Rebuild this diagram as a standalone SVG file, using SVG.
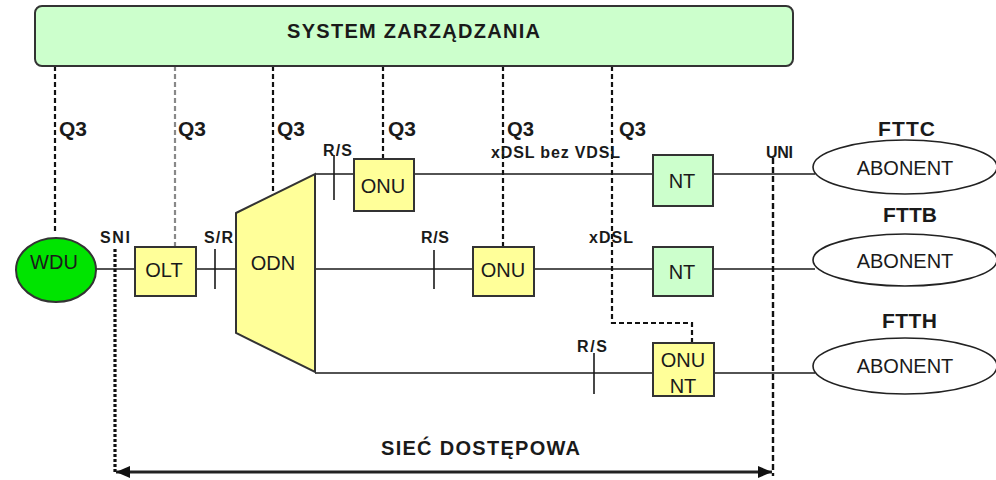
<svg xmlns="http://www.w3.org/2000/svg" width="996" height="480" viewBox="0 0 996 480">
<style>
text{font-family:"Liberation Sans",Arial,sans-serif;fill:#1a1a1a}
.b{font-weight:bold}
.lbl{font-weight:bold;font-size:16px}
.q3{font-weight:bold;font-size:21px}
.nt{font-size:20px}
.box{stroke:#333;stroke-width:2}
.y{fill:#ffff99}
.g{fill:#ccffcc}
.ln{stroke:#1a1a1a;stroke-width:1.6;fill:none}
.d{stroke:#111;stroke-width:2.2;stroke-dasharray:5 3;fill:none}
.dg{stroke:#888;stroke-width:2.2;stroke-dasharray:5 3;fill:none}
.sni{stroke:#111;stroke-width:3.2;stroke-dasharray:3 2;fill:none}
.uni{stroke:#111;stroke-width:2.4;stroke-dasharray:6 3;fill:none}
.ell{fill:#fff;stroke:#222;stroke-width:1.6}
</style>
<defs>
<marker id="ah" viewBox="0 0 14 12" refX="14" refY="6" markerWidth="14" markerHeight="12" markerUnits="userSpaceOnUse" orient="auto-start-reverse">
<path d="M0,0 L14,6 L0,12 Z" fill="#111"/>
</marker>
</defs>
<rect width="996" height="480" fill="#fff"/>

<g id="connectors">
<!-- Q3 management links -->
<path class="d" d="M55,66 V232"/>
<path class="dg" d="M175,66 V247"/>
<path class="d" d="M273,66 V195"/>
<path class="d" d="M383,66 V159"/>
<path class="d" d="M503,66 V247"/>
<path class="d" d="M612,66 V323 H692 V343"/>
<!-- main lines -->
<path class="ln" d="M96,269 H135"/>
<path class="ln" d="M196,269 H236"/>
<path class="ln" d="M315,174 H354"/>
<path class="ln" d="M414,174 H653"/>
<path class="ln" d="M713,174 H815"/>
<path class="ln" d="M315,269 H473"/>
<path class="ln" d="M534,269 H653"/>
<path class="ln" d="M713,269 H815"/>
<path class="ln" d="M315,373 H653"/>
<path class="ln" d="M714,373 H815"/>
<!-- reference point ticks -->
<path class="ln" d="M215,249 V289"/>
<path class="ln" d="M334,155 V200"/>
<path class="ln" d="M434,250 V289"/>
<path class="ln" d="M594,353 V394"/>
<!-- SNI / UNI boundaries -->
<path class="sni" d="M115,249 V472"/>
<path class="uni" d="M773,158 V476"/>
<!-- access network span -->
<path d="M116,472 H772" stroke="#222" stroke-width="3" fill="none" marker-start="url(#ah)" marker-end="url(#ah)"/>
</g>

<g id="system">
<rect x="35" y="6" width="758" height="60" rx="7" class="box g" stroke="#444"/>
<text x="413.5" y="38" class="b" font-size="20" text-anchor="middle" textLength="253" lengthAdjust="spacing">SYSTEM ZARZĄDZANIA</text>
</g>

<g id="q3-labels">
<text x="59" y="136" class="q3" textLength="28" lengthAdjust="spacingAndGlyphs">Q3</text>
<text x="178" y="136" class="q3" textLength="28" lengthAdjust="spacingAndGlyphs">Q3</text>
<text x="277" y="136" class="q3" textLength="28" lengthAdjust="spacingAndGlyphs">Q3</text>
<text x="388" y="136" class="q3" textLength="28" lengthAdjust="spacingAndGlyphs">Q3</text>
<text x="507" y="136" class="q3" textLength="27" lengthAdjust="spacingAndGlyphs">Q3</text>
<text x="619" y="136" class="q3" textLength="27" lengthAdjust="spacingAndGlyphs">Q3</text>
</g>

<g id="wdu">
<ellipse cx="56" cy="270" rx="40" ry="32" fill="#00e400" stroke="#333" stroke-width="2"/>
<text x="54" y="269" class="nt" text-anchor="middle" fill="#222">WDU</text>
</g>

<g id="olt">
<rect x="135" y="247" width="61" height="49" class="box y"/>
<text x="164" y="277" class="nt" text-anchor="middle">OLT</text>
</g>

<g id="odn">
<polygon points="236,213 315,174 315,372 236,333" class="box y"/>
<text x="273" y="270" class="nt" text-anchor="middle">ODN</text>
</g>

<g id="onu1">
<rect x="354" y="159" width="60" height="52" class="box y"/>
<text x="383" y="193" class="nt" font-size="21" text-anchor="middle">ONU</text>
</g>

<g id="onu2">
<rect x="473" y="247" width="61" height="49" class="box y"/>
<text x="503" y="277" class="nt" font-size="21" text-anchor="middle">ONU</text>
</g>

<g id="nt1">
<rect x="653" y="155" width="60" height="51" class="box g"/>
<text x="682" y="188" class="nt" text-anchor="middle">NT</text>
</g>

<g id="nt2">
<rect x="653" y="247" width="60" height="49" class="box g"/>
<text x="682" y="279" class="nt" text-anchor="middle">NT</text>
</g>

<g id="onu-nt">
<rect x="653" y="343" width="61" height="53" class="box y"/>
<text x="683" y="367" class="nt" text-anchor="middle">ONU</text>
<text x="683" y="393" class="nt" text-anchor="middle">NT</text>
</g>

<g id="abonent1">
<ellipse cx="905" cy="167" rx="92" ry="27" class="ell"/>
<text x="905" y="175" class="nt" font-size="21" text-anchor="middle" fill="#333">ABONENT</text>
</g>
<g id="abonent2">
<ellipse cx="905" cy="260" rx="92" ry="26" class="ell"/>
<text x="905" y="268" class="nt" font-size="21" text-anchor="middle" fill="#333">ABONENT</text>
</g>
<g id="abonent3">
<ellipse cx="905" cy="366" rx="92" ry="28" class="ell"/>
<text x="905" y="373" class="nt" font-size="21" text-anchor="middle" fill="#333">ABONENT</text>
</g>

<g id="labels">
<text x="100" y="243" class="lbl" textLength="30" lengthAdjust="spacing">SNI</text>
<text x="204" y="243" class="lbl" textLength="29" lengthAdjust="spacing">S/R</text>
<text x="323" y="156" class="lbl" textLength="29" lengthAdjust="spacing">R/S</text>
<text x="421" y="243" class="lbl" textLength="28" lengthAdjust="spacing">R/S</text>
<text x="577" y="352" class="lbl" textLength="30" lengthAdjust="spacing">R/S</text>
<text x="491" y="158" class="lbl" textLength="129" lengthAdjust="spacing">xDSL bez VDSL</text>
<text x="589" y="243" class="lbl" textLength="44" lengthAdjust="spacing">xDSL</text>
<text x="766" y="158" class="lbl" textLength="27" lengthAdjust="spacing">UNI</text>
<text x="878" y="136" class="b" font-size="21" textLength="57" lengthAdjust="spacing">FTTC</text>
<text x="883" y="222" class="b" font-size="21" textLength="54" lengthAdjust="spacing">FTTB</text>
<text x="882" y="328" class="b" font-size="21" textLength="55" lengthAdjust="spacing">FTTH</text>
<text x="381" y="455" class="b" font-size="20" textLength="199" lengthAdjust="spacing">SIEĆ DOSTĘPOWA</text>
</g>
</svg>
